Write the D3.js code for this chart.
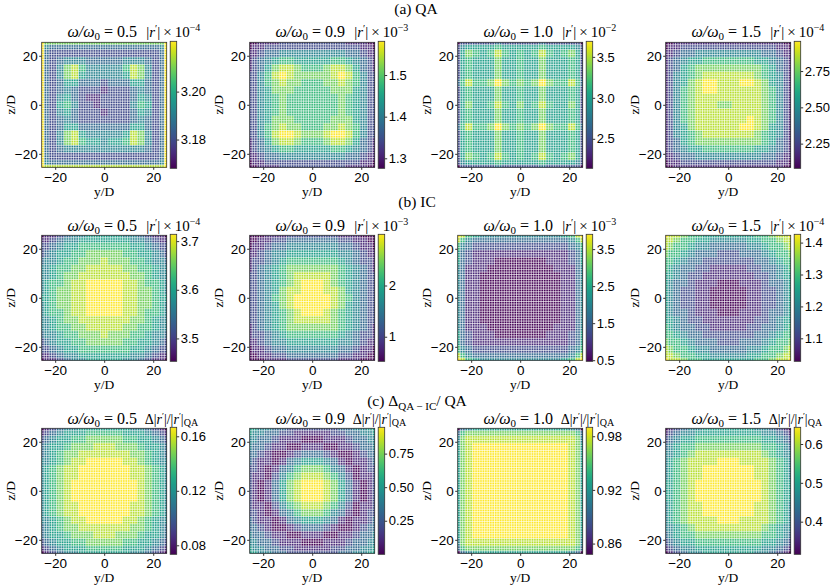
<!DOCTYPE html>
<html>
<head>
<meta charset="utf-8">
<script src="https://cdn.jsdelivr.net/npm/d3@7"></script>
<style>
  body { margin: 0; background: #fff; }
  svg { display: block; font-family: "Liberation Serif", "Times New Roman", serif; }
</style>
</head>
<body>
<svg id="chart"></svg>
<script>
// frequency ratio of each column of panels
const ratios = ["0.5", "0.9", "1.0", "1.5"];
const axisTicks = [-20, 0, 20];

// sample blocks along y/D and z/D (cell edges, 51 cells from -25 to 25)
const blockEdges = [-25.5, -24.5, -22.5, -19.5, -16.5, -13.5, -10.5, -7.5, -4.5, -1.5,
                    1.5, 4.5, 7.5, 10.5, 13.5, 16.5, 19.5, 22.5, 24.5, 25.5];

// colour bar ranges and ticks
const rangeQA = [[3.168, 3.221], [1.276, 1.581], [2.14, 3.69], [2.08, 2.955]];
const rangeIC = [[3.453, 3.714], [0.52, 3.0], [0.47, 3.9], [1.028, 1.426]];
const rangeDiff = [[0.0734, 0.1666], [0, 0.946], [0.848, 0.99], [0.316, 0.643]];
const ticksQA = [["3.18", "3.20"], ["1.3", "1.4", "1.5"], ["2.5", "3.0", "3.5"], ["2.25", "2.50", "2.75"]];
const ticksIC = [["3.5", "3.6", "3.7"], ["1", "2"], ["0.5", "1.5", "2.5", "3.5"], ["1.1", "1.2", "1.3", "1.4"]];
const ticksDiff = [["0.08", "0.12", "0.16"], ["0.25", "0.50", "0.75"], ["0.86", "0.92", "0.98"], ["0.4", "0.5", "0.6"]];
const expQA = ["−4", "−3", "−2", "−4"];
const expIC = ["−4", "−3", "−3", "−4"];

// field levels (0 = bar minimum ... 9 = bar maximum), rows from z/D = 25 down to -25
const qa05 = [
  "9777777777777777779", "9433333333333333349", "9322222222222222239", "9323444333334443239",
  "9324786444446874239", "9324785444445874239", "9323553332333553239", "9323432221222343239",
  "9324532112222354239", "9325642212222465239", "9324532221222354239", "9323432222222343239",
  "9323553333333553239", "9324785444445874239", "9324786554556874239", "9323444444444443239",
  "9322222222222222239", "9433333333333333349", "9888888888888888889"];
const qa09 = [
  "0011122222222211100", "0112222222222222110", "1123344444444433211", "1234566555556654321",
  "1235788766678875321", "2246898777778986422", "2246787766677876422", "2245777666667775422",
  "2245676666666765422", "2245676666666765422", "2245676666666765422", "2245777666667775422",
  "2246787766677876422", "2246899877789986422", "1235788766678875321", "1234566555556654321",
  "1123344444444433211", "0112222222222222110", "0011122222222211100"];
const qa10 = [
  "0222223222223222220", "2455556555556555542", "2576568656568656752", "2565557556557555652",
  "2565557556557555652", "2565557556557555652", "3686679767679766863", "2565557556557555652",
  "2565557556557555652", "2575568657568655752", "2565557556557555652", "2565557556557555652",
  "3686679767679766863", "2565557556557555652", "2565557556557555652", "2565557556557555652",
  "2576568656568656752", "2455556555556555542", "0222223222223222220"];
const qa15 = [
  "0011111111111111100", "0112222222222222110", "1123344444444433211", "1234556666666554321",
  "1235677777777765321", "1245678888888765421", "1245789988899875421", "1246789988888876421",
  "1246788888888876421", "1246788877888876421", "1246788888888876421", "1246788888889876421",
  "1245788888899875421", "1245678888888765421", "1235677777777765321", "1234556666666554321",
  "1123344444444433211", "0112222222222222110", "0011111111111111100"];

const ic05 = [
  "0112344555554432110", "1123445555555443211", "2234556666666554322", "2345566777776655432",
  "3445667778777665443", "4456677888887766544", "4456778888888776544", "4566788999998876654",
  "4567788999998877654", "5567788999998877655", "4567788999998877654", "4566788999998876654",
  "4456778888888776544", "4456677888887766544", "3445667778777665443", "2345566777776655432",
  "2234556666666554322", "1123445555555443211", "0112344555554432110"];
const ic09 = [
  "0001112222222111000", "0011223333333221100", "0112334444444332110", "1123445555555443211",
  "1223456666666543221", "1234567777777654321", "2234567888887654322", "2234567899987654322",
  "2234578899988754322", "2234678999998764322", "2234578999998754322", "2234567899987654322",
  "2234567888887654322", "1234567777777654321", "1223456666666543221", "1123445555555443211",
  "0112334444444332110", "0011223333333221100", "0001112222222111000"];
const ic10 = [
  "9865444444444445689", "8643333333333333468", "6432222222222222346", "5321111111111111235",
  "5321110000000111235", "4311100000000011134", "4311000000000001134", "4311000000000001134",
  "4311000000000001134", "4311000000000001134", "4311000000000001134", "4311000000000001134",
  "4311000000000001134", "4311100000000011134", "5321110000000111235", "5321111111111111235",
  "6432222222222222346", "8643333333333333468", "9865444444444445689"];
const ic15 = [
  "9887665555555667889", "8876655444445566788", "8766544333334456678", "7665433322233345667",
  "6654332222222334566", "6543322111112233456", "5543221111111223455", "5433211100011123345",
  "5432211000001122345", "5432211000001122345", "5432211000001122345", "5433211100011123345",
  "5543221111111223455", "6543322111112233456", "6654332222222334566", "7665433322233345667",
  "8766544333334456678", "8876655444445566788", "9887665555555667889"];

const diff05 = [
  "0123445555555443210", "1234555666665554321", "2345566777776655432", "3455677788877765543",
  "3456778888888776543", "4456788999998876544", "4567889999999887654", "4567889999999887654",
  "4567899999999987654", "4567899999999987654", "4567899999999987654", "4567889999999887654",
  "4567889999999887654", "4456788999998876544", "3456778888888776543", "3455677788877765543",
  "2345566777776655432", "1234555666665554321", "0123445555555443210"];
const diff09 = [
  "5544332222222334455", "5443322111112233445", "4433211100011123344", "4332110011100112334",
  "3321001233321001233", "3211013455543101123", "2210134677764310122", "2110246788876420112",
  "2101357899987531012", "2101357899987531012", "2101357899987531012", "2110246788876420112",
  "2210134677764310122", "3211013455543101123", "3321001233321001233", "4332110011100112334",
  "4433211100011123344", "5443322111112233445", "5544332222222334455"];
const diff10 = [
  "0345555555555555430", "3677777777777777763", "4788888888888888874", "5789999999999999875",
  "5789999999999999875", "5789999999999999875", "5789999999999999875", "5789999999999999875",
  "5789999999999999875", "5789999999999999875", "5789999999999999875", "5789999999999999875",
  "5789999999999999875", "5789999999999999875", "5789999999999999875", "5789999999999999875",
  "4788888888888888874", "3677777777777777763", "0345555555555555430"];
const diff15 = [
  "0123445555555443210", "1234455555555544321", "2345566666666655432", "3456677777777766543",
  "4456788888888876544", "4567888899988887654", "4567889999999887654", "4567889999999887654",
  "5567899999999987655", "5567899999999987655", "5567899999999987655", "4567889999999887654",
  "4567889999999887654", "4567888899988887654", "4456788888888876544", "3456677777777766543",
  "2345566666666655432", "1234455555555544321", "0123445555555443210"];

const width = 830, height = 587;
const svg = d3.select("#chart").attr("width", width).attr("height", height);

// layout
const panelLeft = [41.7, 249.7, 457.7, 665.7];
const rowTop = [42.3, 235.3, 428.3];
const size = 125;
const titleBase = [37.3, 230.5, 423.5];
const sectionBase = [13.5, 207, 406];

const panelRows = [
  { grids: [qa05, qa09, qa10, qa15], ranges: rangeQA, ticks: ticksQA, exps: expQA },
  { grids: [ic05, ic09, ic10, ic15], ranges: rangeIC, ticks: ticksIC, exps: expIC },
  { grids: [diff05, diff09, diff10, diff15], ranges: rangeDiff, ticks: ticksDiff, exps: null }
];

const minus = d => d < 0 ? "−" + Math.abs(d) : String(d);
const thin = "\u2009";

// gradient for the colour bars
const defs = svg.append("defs");
const grad = defs.append("linearGradient").attr("id", "viridis")
    .attr("x1", 0).attr("y1", 1).attr("x2", 0).attr("y2", 0);
d3.range(0, 1.0001, 0.05).forEach(t => {
    grad.append("stop").attr("offset", t).attr("stop-color", d3.interpolateViridis(t));
});

// section titles
const sec = svg.append("g").attr("font-size", 15.5).attr("text-anchor", "middle");
sec.append("text").attr("x", 416).attr("y", sectionBase[0]).text("(a) QA");
sec.append("text").attr("x", 417).attr("y", sectionBase[1]).text("(b) IC");
const secC = sec.append("text").attr("x", 417).attr("y", sectionBase[2]);
secC.append("tspan").text("(c) Δ");
secC.append("tspan").attr("dy", 4).attr("font-size", 11).text("QA − IC");
secC.append("tspan").attr("dy", -4).text("/ QA");

panelRows.forEach((row, ri) => {
    const top = rowTop[ri];
    row.grids.forEach((grid, ci) => {
        const left = panelLeft[ci];
        const [lo, hi] = row.ranges[ci];
        const g = svg.append("g");

        const x = d3.scaleLinear().domain([-25.5, 25.5]).range([left, left + size]);
        const y = d3.scaleLinear().domain([-25.5, 25.5]).range([top + size, top]);
        const color = d3.scaleSequential(d3.interpolateViridis).domain([lo, hi]);

        const cells = [];
        grid.forEach((s, r) => {
            for (let c = 0; c < blockEdges.length - 1; c++) {
                const lev = +s[Math.min(c, s.length - 1)];
                cells.push({ c, r, value: lo + (hi - lo) * lev / 9 });
            }
        });

        g.append("g").selectAll("rect")
            .data(cells)
            .join("rect")
            .attr("x", d => x(blockEdges[d.c]))
            .attr("y", d => y(-blockEdges[d.r]))
            .attr("width", d => x(blockEdges[d.c + 1]) - x(blockEdges[d.c]) + 0.3)
            .attr("height", d => y(-blockEdges[d.r + 1]) - y(-blockEdges[d.r]) + 0.3)
            .attr("fill", d => color(d.value));

        // white gaps between the 51 x 51 markers
        const gaps = d3.range(-24.5, 25, 1);
        const gl = g.append("g").attr("stroke", "#fff").attr("stroke-width", 0.65);
        gl.selectAll("line.v").data(gaps).join("line").attr("class", "v")
            .attr("x1", d => x(d)).attr("x2", d => x(d))
            .attr("y1", top).attr("y2", top + size);
        gl.selectAll("line.h").data(gaps).join("line").attr("class", "h")
            .attr("y1", d => y(d)).attr("y2", d => y(d))
            .attr("x1", left).attr("x2", left + size);

        g.append("rect")
            .attr("x", left).attr("y", top).attr("width", size).attr("height", size)
            .attr("fill", "none").attr("stroke", "#333").attr("stroke-width", 0.8);

        // axes
        const xa = g.append("g").attr("transform", `translate(0,${top + size})`)
            .call(d3.axisBottom(x).tickValues(axisTicks).tickFormat(minus).tickSize(2.5).tickPadding(2.3));
        const ya = g.append("g").attr("transform", `translate(${left},0)`)
            .call(d3.axisLeft(y).tickValues(axisTicks).tickFormat(minus).tickSize(2.5).tickPadding(1.5));
        [xa, ya].forEach(a => {
            a.select(".domain").remove();
            a.selectAll("text").attr("font-size", 13.5).attr("font-family", null).attr("fill", "#000");
            a.selectAll("line").attr("stroke", "#333");
        });

        g.append("text")
            .attr("x", left + size / 2).attr("y", top + size + 29)
            .attr("text-anchor", "middle").attr("font-size", 13.5).text("y/D");
        g.append("text")
            .attr("transform", `translate(${left - 27},${top + size / 2}) rotate(-90)`)
            .attr("text-anchor", "middle").attr("font-size", 13.5).text("z/D");

        // panel title
        const t = g.append("text")
            .attr("x", left + size / 2 - 2).attr("y", titleBase[ri])
            .attr("text-anchor", "middle").attr("font-size", 16);
        t.append("tspan").attr("font-style", "italic").text("ω/ω");
        t.append("tspan").attr("dy", 3).attr("font-size", 11).text("0");
        t.append("tspan").attr("dy", -3).text(" = " + ratios[ci]);

        // colour bar
        const cbx = left + size + 3.5, cbw = 6.5;
        const cb = d3.scaleLinear().domain([lo, hi]).range([top + size + 1, top - 1]);
        g.append("rect")
            .attr("x", cbx).attr("y", top - 1).attr("width", cbw).attr("height", size + 2)
            .attr("fill", "url(#viridis)").attr("stroke", "#333").attr("stroke-width", 0.8);
        const tk = row.ticks[ci];
        const ca = g.append("g").attr("transform", `translate(${cbx + cbw},0)`)
            .call(d3.axisRight(cb).tickValues(tk.map(Number)).tickFormat((d, i) => tk[i]).tickSize(2.5).tickPadding(1.5));
        ca.select(".domain").remove();
        ca.selectAll("text").attr("font-size", 13).attr("font-family", null).attr("fill", "#000");
        ca.selectAll("line").attr("stroke", "#333");

        // colour bar label
        const lb = g.append("text").attr("y", titleBase[ri]);
        if (row.exps) {
            lb.attr("x", left + size - 20.5).attr("font-size", 15);
            lb.append("tspan").text("|");
            lb.append("tspan").attr("font-style", "italic").text("r");
            lb.append("tspan").attr("dy", -5).attr("font-size", 10).text("′");
            lb.append("tspan").attr("dy", 5).text("|" + thin + "×" + thin + "10");
            lb.append("tspan").attr("dy", -6).attr("font-size", 10).text(row.exps[ci]);
        } else {
            lb.attr("x", left + size - 22).attr("font-size", 14);
            lb.append("tspan").text("Δ|");
            lb.append("tspan").attr("font-style", "italic").text("r");
            lb.append("tspan").attr("dy", -5).attr("font-size", 9).text("′");
            lb.append("tspan").attr("dy", 5).text("|/|");
            lb.append("tspan").attr("font-style", "italic").text("r");
            lb.append("tspan").attr("dy", -5).attr("font-size", 9).text("′");
            lb.append("tspan").attr("dy", 5).text("|");
            lb.append("tspan").attr("dy", 2.5).attr("font-size", 10).text("QA");
        }
    });
});
</script>
</body>
</html>
